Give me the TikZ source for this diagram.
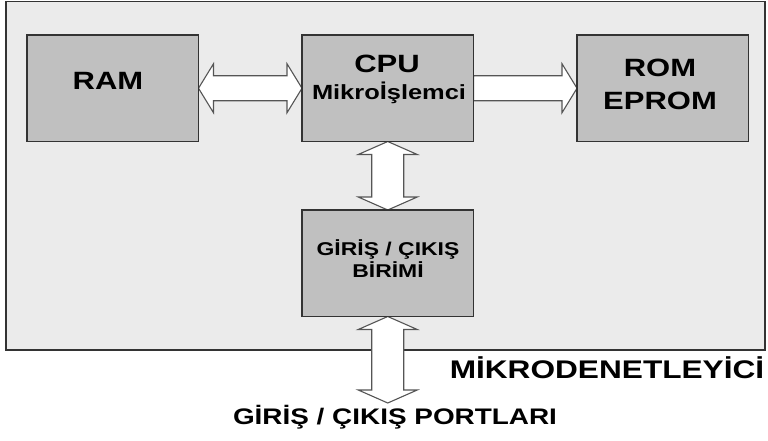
\documentclass[tikz,border=0pt]{standalone}
\usepackage{fontspec}
\setmainfont{Liberation Sans}
\usepackage{graphicx}
\usetikzlibrary{calc}
\definecolor{panel}{HTML}{EBEBEB}
\definecolor{block}{HTML}{C0C0C0}
\definecolor{edge}{HTML}{333333}
\definecolor{busline}{HTML}{555555}
\tikzset{
  blk/.style={draw=edge, line width=1.5pt, fill=block, rectangle, inner sep=0pt, anchor=north west},
  bus/.style={draw=busline, line width=1.1pt, fill=white, line join=miter},
  lbl/.style={inner sep=0pt, anchor=base, text=black},
}
% bold Arial-like text, widened horizontally
\newcommand\wtext[2]{\scalebox{1.24}[1]{\fontsize{#1}{#1}\selectfont\bfseries #2}}
% horizontal two-headed bus arrow between two points
\newcommand\hbus[2]{%
  \draw[bus] let \p1=(#1), \p2=(#2) in
  (\x1,\y1) -- (\x1+15pt,\y1+24.5pt) -- (\x1+15pt,\y1+12.5pt) -- (\x2-15pt,\y1+12.5pt)
  -- (\x2-15pt,\y1+24.5pt) -- (\x2,\y1) -- (\x2-15pt,\y1-24.5pt) -- (\x2-15pt,\y1-12.5pt)
  -- (\x1+15pt,\y1-12.5pt) -- (\x1+15pt,\y1-24.5pt) -- cycle;}
% horizontal one-headed bus arrow
\newcommand\hbusone[2]{%
  \draw[bus] let \p1=(#1), \p2=(#2) in
  (\x1,\y1+12.5pt) -- (\x2-15pt,\y1+12.5pt) -- (\x2-15pt,\y1+24.5pt) -- (\x2,\y1)
  -- (\x2-15pt,\y1-24.5pt) -- (\x2-15pt,\y1-12.5pt) -- (\x1,\y1-12.5pt) -- cycle;}
% vertical two-headed bus arrow (first point on top)
\newcommand\vbus[2]{%
  \draw[bus] let \p1=(#1), \p2=(#2) in
  (\x1,\y1) -- (\x1+29.5pt,\y1-13pt) -- (\x1+16pt,\y1-13pt) -- (\x1+16pt,\y2+13pt)
  -- (\x1+29.5pt,\y2+13pt) -- (\x1,\y2) -- (\x1-29.5pt,\y2+13pt) -- (\x1-16pt,\y2+13pt)
  -- (\x1-16pt,\y1-13pt) -- (\x1-29.5pt,\y1-13pt) -- cycle;}
\begin{document}
\begin{tikzpicture}[x=1pt, y=-1pt]
\useasboundingbox (0,0) rectangle (768,441);

% microcontroller panel
\node[draw=edge, line width=1.5pt, fill=panel, anchor=north west, inner sep=0pt,
      minimum width=759pt, minimum height=348pt] (mcu) at (5,1) {};

% blocks (positions only; drawn after the buses)
\path (27,35) coordinate (ramnw) (302,35) coordinate (cpunw)
      (577,35) coordinate (romnw) (302,210) coordinate (ionw);
\node[blk, draw=none, fill=none, minimum width=170pt, minimum height=105pt] (ram) at (ramnw) {};
\node[blk, draw=none, fill=none, minimum width=170pt, minimum height=105pt] (cpu) at (cpunw) {};
\node[blk, draw=none, fill=none, minimum width=170pt, minimum height=105pt] (rom) at (romnw) {};
\node[blk, draw=none, fill=none, minimum width=170pt, minimum height=105pt] (io) at (ionw) {};
\coordinate (ports) at (387,403);

% buses
\hbus{ram.east}{cpu.west}
\hbusone{cpu.east}{rom.west}
\vbus{cpu.south}{io.north}
\vbus{io.south}{ports}

% block faces
\foreach \b in {ram,cpu,rom,io}
  \draw[draw=edge, line width=1.5pt, fill=block] (\b.north west) rectangle (\b.south east);

% labels
\node[lbl] (ramtxt) at (108,90) {\wtext{25}{RAM}};
\node[lbl] (cputxt) at (387,73) {\wtext{25}{CPU}};
\node[lbl] (mputxt) at (389,100) {\wtext{20.5}{Mikroİşlemci}};
\node[lbl] (romtxt) at (660,77) {\wtext{25}{ROM}};
\node[lbl] (eptxt) at (660,110) {\wtext{25}{EPROM}};
\node[lbl] (iotxt) at (388,255) {\wtext{18.5}{GİRİŞ / ÇIKIŞ}};
\node[lbl] (iotxt2) at (388,277) {\wtext{18.5}{BİRİMİ}};
\node[lbl] (mcutxt) at (607,378) {\wtext{25.5}{MİKRODENETLEYİCİ}};
\node[lbl] (porttxt) at (395,424) {\wtext{22.5}{GİRİŞ / ÇIKIŞ PORTLARI}};
\end{tikzpicture}
\end{document}
